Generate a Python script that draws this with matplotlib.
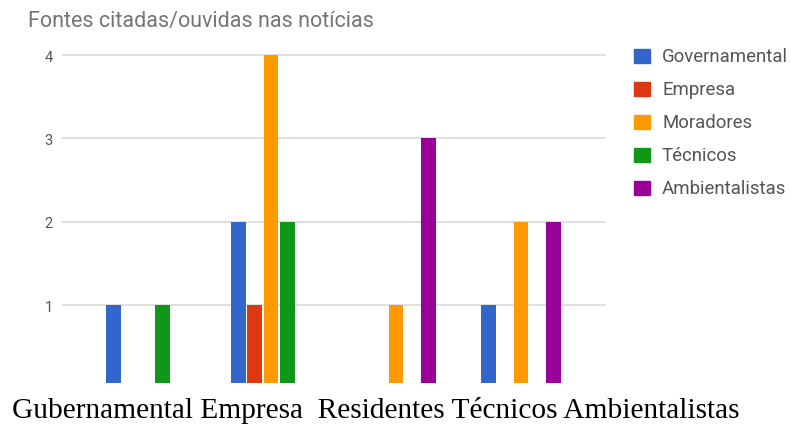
import matplotlib
matplotlib.use("Agg")
import matplotlib.pyplot as plt
import numpy as np

# Data
groups = ["G1", "G2", "G3", "G4"]
series = ["Governamental", "Empresa", "Moradores", "Técnicos", "Ambientalistas"]
governamental = [1, 2, 0, 1]
empresa = [0, 1, 0, 0]
moradores = [0, 4, 1, 2]
tecnicos = [1, 2, 0, 0]
ambientalistas = [0, 0, 3, 2]
values = [governamental, empresa, moradores, tecnicos, ambientalistas]
colors = ["#3366cc", "#dc3912", "#ff9900", "#109618", "#990099"]
yticks = [1, 2, 3, 4]
title = "Fontes citadas/ouvidas nas notícias"
xlabel_text = "Gubernamental Empresa  Residentes Técnicos Ambientalistas"

W, H = 791, 427
fig = plt.figure(figsize=(W / 100, H / 100), dpi=100)
ax_left, ax_right = 62, 606
ax_bottom_px, ax_top_px = 384, 46
ax = fig.add_axes([ax_left / W, 1 - ax_bottom_px / H,
                   (ax_right - ax_left) / W, (ax_bottom_px - ax_top_px) / H])

x = np.arange(len(groups))
step = 0.13
width = 0.118
for i, (s, vals, c) in enumerate(zip(series, values, colors)):
    ax.bar(x + (i - 2) * step, vals, width=width, color=c, label=s, zorder=3)

ppu = 83.3
ax.set_ylim((389.5 - ax_bottom_px) / ppu, 4 + (56 - ax_top_px) / ppu)
ax.set_xlim(-0.672, 3.68)
ax.set_yticks(yticks)
ax.set_yticklabels([str(t) for t in yticks], fontfamily="Roboto", fontsize=10.5, color="#555555")
ax.tick_params(axis="y", length=0, pad=6.5)
ax.set_xticks([])
ax.yaxis.grid(True, color="#d9d9d9", linewidth=1.2, zorder=0)
for sp in ax.spines.values():
    sp.set_visible(False)

fig.text(28 / W, 1 - 21 / H, title, fontfamily="Roboto", fontsize=15.5,
         color="#757575", va="center", ha="left")

# Legend
leg_y0, leg_dy = 57, 33
for i, (s, c) in enumerate(zip(series, colors)):
    yc = leg_y0 + i * leg_dy
    fig.patches.append(plt.Rectangle((634 / W, 1 - (yc + 7) / H), 16 / W, 14 / H,
                                     transform=fig.transFigure, color=c, figure=fig))
    fig.text(662 / W, 1 - yc / H, s, fontfamily="Roboto", fontsize=13.4,
             color="#555555", va="center", ha="left")

fig.text(12 / W, 1 - 411 / H, xlabel_text, fontfamily="Liberation Serif",
         fontsize=21.2, color="black", va="center", ha="left")

fig.savefig("out.png", dpi=100)
